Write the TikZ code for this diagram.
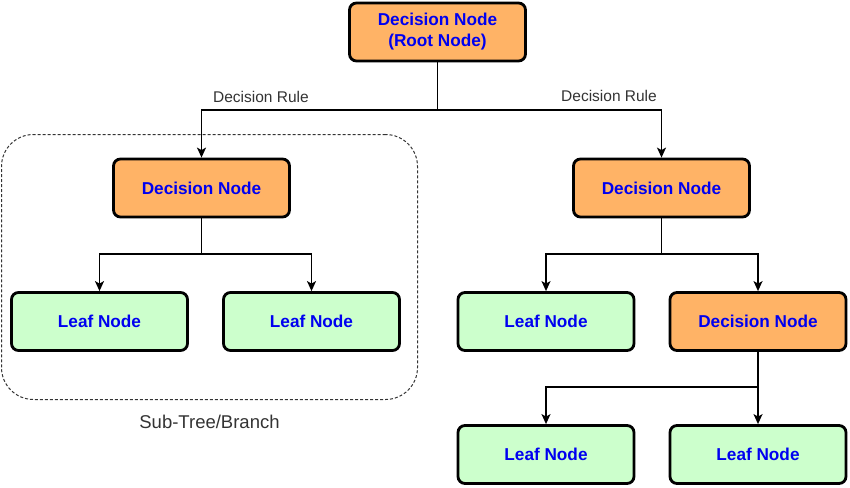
\documentclass[tikz,border=0pt]{standalone}
\usepackage{fontspec}
\setmainfont{Liberation Sans}
\usetikzlibrary{arrows.meta}
\definecolor{dorange}{HTML}{FFB366}
\definecolor{dgreen}{HTML}{CCFFCC}
\definecolor{dblue}{HTML}{0000F0}
\definecolor{dgray}{HTML}{333333}
\begin{document}
\begin{tikzpicture}[x=1pt,y=-1pt,
  box/.style={draw=black, line width=2.8pt, rounded corners=7pt, inner sep=0pt,
    minimum width=176pt, minimum height=58pt, align=center,
    text=dblue, font=\fontsize{17.2}{21}\selectfont\bfseries},
  decbox/.style={box, fill=dorange},
  leafbox/.style={box, fill=dgreen},
  arr/.style={line width=1.5pt, -{Stealth[length=10pt,width=9pt,inset=2.5pt]}},
  lab/.style={font=\fontsize{15.5}{18}\selectfont, text=dgray, inner sep=0pt}]
\useasboundingbox (0,0) rectangle (850,487);
% sub-tree frame
\node[draw=dgray, dashed, dash pattern=on 3pt off 2pt, line width=1pt, rounded corners=32pt,
  minimum width=416pt, minimum height=265pt] (sub) at (209.5,267) {};
\node[lab, font=\fontsize{18.5}{21}\selectfont] (sublab) at (209.5,422) {Sub-Tree/Branch};
% nodes
\node[decbox] (root) at (437.5,32) {Decision Node\\(Root Node)};
\node[decbox] (dl) at (201.5,188) {Decision Node};
\node[decbox] (dr) at (661.5,188) {Decision Node};
\node[leafbox] (l1) at (99.5,321.5) {Leaf Node};
\node[leafbox] (l2) at (311.5,321.5) {Leaf Node};
\node[leafbox] (r1) at (546,321.5) {Leaf Node};
\node[decbox] (r2) at (758,321.5) {Decision Node};
\node[leafbox] (r3) at (546,454.5) {Leaf Node};
\node[leafbox] (r4) at (758,454.5) {Leaf Node};
% junctions
\coordinate (j0) at (437.5,110);
\coordinate (j1) at (201.5,254);
\coordinate (j2) at (661.5,254);
\coordinate (j3) at (758,387);
% connectors
\draw[arr] (root.south) -- (j0) -| (dl.north);
\draw[arr] (j0) -| (dr.north);
\draw[arr] (dl.south) -- (j1) -| (l1.north);
\draw[arr] (j1) -| (l2.north);
\draw[arr] (dr.south) -- (j2) -| (r1.north);
\draw[arr] (j2) -| (r2.north);
\draw[arr] (r2.south) -- (j3) -| (r3.north);
\draw[arr] (j3) -- (r4.north);
% labels
\node[lab] (rl) at (261,97) {Decision Rule};
\node[lab] (rr) at (609,96) {Decision Rule};
\end{tikzpicture}
\end{document}
